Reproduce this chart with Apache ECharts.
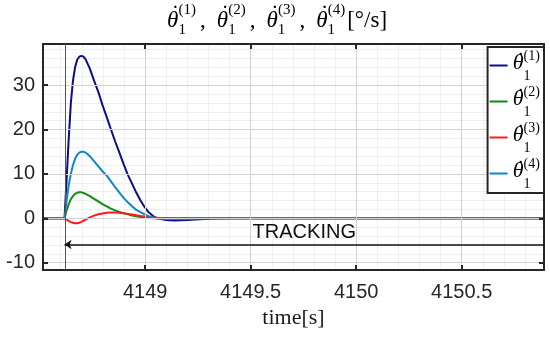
<!DOCTYPE html>
<html><head><meta charset="utf-8">
<script src="https://cdn.jsdelivr.net/npm/echarts@6/dist/echarts.min.js"></script>
<style>html,body{margin:0;padding:0;background:#fff}#c{width:550px;height:337px}</style>
</head><body><div id="c"></div>
<script>
// ---- data ----
const time = [4148.5, 4148.618, 4148.628, 4148.638, 4148.648, 4148.658, 4148.668, 4148.678, 4148.688, 4148.698, 4148.708, 4148.718,
  4148.738, 4148.758, 4148.778, 4148.798, 4148.818, 4148.838, 4148.858, 4148.878, 4148.898, 4148.918, 4148.938, 4148.958, 4148.978, 4148.998,
  4149.018, 4149.038, 4149.058, 4149.098, 4149.138, 4149.198, 4149.258, 4149.338, 4149.418, 4150.9];
const theta1 = [0, 0, 9, 18, 26, 31, 34, 35.7, 36.4, 36.6, 36.4, 35.8,
  33.7, 31, 28.5, 25.5, 22.8, 20, 17.3, 14.8, 12.2, 9.8, 7.8, 5.8, 4.0, 2.5, 1.3, 0.5, 0,
  -0.4, -0.5, -0.4, -0.2, -0.05, 0, 0];
const theta2 = [0, 0, 1.8, 3.2, 4.3, 5.0, 5.5, 5.75, 5.85, 5.85, 5.7, 5.5,
  5.0, 4.4, 3.8, 3.2, 2.7, 2.2, 1.8, 1.45, 1.15, 0.9, 0.65, 0.45, 0.3, 0.15, 0.05, 0, 0,
  0, 0, 0, 0, 0, 0, 0];
const theta3 = [0, 0, -0.3, -0.6, -0.85, -1.0, -1.1, -1.1, -1.0, -0.8, -0.55, -0.3,
  0.2, 0.6, 0.9, 1.1, 1.25, 1.3, 1.3, 1.25, 1.15, 1.0, 0.85, 0.7, 0.55, 0.42, 0.3, 0.22, 0.15,
  0.05, 0, 0, 0, 0, 0, 0];
const theta4 = [0, 0, 4, 7.5, 10, 12, 13.4, 14.3, 14.8, 15.0, 15.0, 14.8,
  14, 12.9, 11.7, 10.6, 9.6, 8.3, 7, 5.8, 4.6, 3.6, 2.7, 1.9, 1.4, 0.9, 0.45, 0.15, -0.05,
  -0.15, -0.15, -0.1, -0.05, 0, 0, 0];
const seriesIds = ['1', '2', '3', '4'];
const seriesColors = ['#0d0d8a', '#138a13', '#ff1a1a', '#0e88c4'];
const xTickLabels = [4149, 4149.5, 4150, 4150.5];
const yTickLabels = [-10, 0, 10, 20, 30];
const X_MIN = 4148.516, X_MAX = 4150.89;
const Y_MIN = -11.64, Y_MAX = 39.26;
const TRACK_START = 4148.618;
const TRACK_LEVEL = -5.9;
const trackText = 'TRACKING';
const xName = 'time[s]';
const unitText = '[°/s]';

// ---- helpers ----
const AX = '#262626';
const SERIF = 'Liberation Serif';
const sym = n => `{dt|\u2009\u02D9}{th|θ}{sb|1}{sp|(${n})}`;
const symL = n => sym(n) + '{pad|\u200b}';
const titleText = seriesIds.map(sym).join('{cm|,}') + `{br|${unitText}}`;
const allData = [theta1, theta2, theta3, theta4];

const chart = echarts.init(document.getElementById('c'), null, {renderer: 'canvas'});

const mainX = (pos) => ({
  type: 'value', position: pos, min: X_MIN, max: X_MAX, splitNumber: 5, z: 3,
  axisLine: {show: true, onZero: false, lineStyle: {color: AX, width: 2}},
  axisTick: {show: true, inside: true, length: 5, lineStyle: {color: AX, width: 2}},
  splitLine: {show: pos === 'bottom', lineStyle: {color: '#d2d2d2', width: 1}},
  axisLabel: pos === 'bottom' ? {
    show: true, margin: 12, fontSize: 20, fontFamily: 'Liberation Sans', color: AX,
    showMinLabel: false, showMaxLabel: false,
    formatter: v => xTickLabels.some(t => Math.abs(t - v) < 1e-6) ? String(v) : ''
  } : {show: false}
});
const mainY = (pos) => ({
  type: 'value', position: pos, min: Y_MIN, max: Y_MAX, splitNumber: 5, z: 3,
  axisLine: {show: true, onZero: false, lineStyle: {color: AX, width: 2}},
  axisTick: {show: true, inside: true, length: 5, lineStyle: {color: AX, width: 2}},
  splitLine: {show: pos === 'left', lineStyle: {color: '#d2d2d2', width: 1}},
  axisLabel: pos === 'left' ? {
    show: true, margin: 8, fontSize: 20, fontFamily: 'Liberation Sans', color: AX,
    showMinLabel: false, showMaxLabel: false,
    formatter: v => yTickLabels.some(t => Math.abs(t - v) < 1e-6) ? String(v) : ''
  } : {show: false}
});

const base = {fontFamily: SERIF, fontWeight: 'normal', color: '#000'};
const option = {
  animation: false,
  backgroundColor: '#fff',
  title: {
    text: titleText, left: 167, top: 3, padding: 0,
    textStyle: {
      fontWeight: 'normal',
      rich: {
        dt: Object.assign({}, base, {fontSize: 23, lineHeight: 27, verticalAlign: 'top', width: 0.1}),
        th: Object.assign({}, base, {fontStyle: 'italic', fontSize: 23, lineHeight: 35, verticalAlign: 'middle'}),
        sb: Object.assign({}, base, {fontSize: 15, lineHeight: 14, verticalAlign: 'bottom', width: 0.1}),
        sp: Object.assign({}, base, {fontSize: 15, lineHeight: 19, verticalAlign: 'top'}),
        cm: Object.assign({}, base, {fontSize: 23, lineHeight: 35, verticalAlign: 'middle', padding: [0, 11, 0, 4]}),
        br: Object.assign({}, base, {fontSize: 23, lineHeight: 35, verticalAlign: 'middle', padding: [0, 0, 0, 2]})
      }
    }
  },
  grid: {left: 43, right: 6, top: 44, bottom: 67, containLabel: false},
  legend: {
    orient: 'vertical', right: 6, top: 47, itemGap: 2, itemWidth: 18, itemHeight: 2, icon: 'rect',
    padding: [2, 4, 2, 2], borderColor: AX, borderWidth: 2, backgroundColor: '#fff',
    data: seriesIds.map(n => 'th' + n),
    formatter: name => symL(name.slice(2)),
    textStyle: {
      fontWeight: 'normal',
      rich: {
        dt: Object.assign({}, base, {fontSize: 22, height: 21, verticalAlign: 'top', width: 0.1}),
        th: Object.assign({}, base, {fontStyle: 'italic', fontSize: 22, height: 25, verticalAlign: 'top'}),
        sb: Object.assign({}, base, {fontSize: 14, height: 9, verticalAlign: 'bottom', width: 0.1}),
        sp: Object.assign({}, base, {fontSize: 14, height: 11, verticalAlign: 'top'}),
        pad: Object.assign({}, base, {fontSize: 10, lineHeight: 30, verticalAlign: 'middle', width: 0.1})
      }
    }
  },
  xAxis: [
    {type: 'value', min: X_MIN, max: X_MAX, splitNumber: 24, z: 0, position: 'bottom',
     axisLine: {show: false}, axisTick: {show: false}, axisLabel: {show: false},
     splitLine: {show: true, lineStyle: {color: '#efefef', width: 1}}},
    Object.assign(mainX('bottom'), {name: xName, nameLocation: 'middle', nameGap: 37,
      nameTextStyle: {fontFamily: SERIF, fontSize: 22, color: '#1a1a1a'}}),
    mainX('top')
  ],
  yAxis: [
    {type: 'value', min: Y_MIN, max: Y_MAX, splitNumber: 25, z: 0, position: 'left',
     axisLine: {show: false}, axisTick: {show: false}, axisLabel: {show: false},
     splitLine: {show: true, lineStyle: {color: '#efefef', width: 1}}},
    mainY('left'),
    mainY('right')
  ],
  series: seriesIds.map((n, i) => {
    const s = {
      name: 'th' + n, type: 'line', xAxisIndex: 1, yAxisIndex: 1,
      data: time.map((t, k) => [t, allData[i][k]]),
      showSymbol: false, symbol: 'none', smooth: false,
      lineStyle: {color: seriesColors[i], width: 2}, itemStyle: {color: seriesColors[i]},
      z: 2
    };
    if (i === 0) {
      s.markLine = {
        silent: true, symbol: ['none', 'none'], animation: false,
        label: {show: false},
        lineStyle: {color: '#555', width: 1, type: 'solid'},
        data: [{xAxis: TRACK_START}]
      };
    }
    if (i === 1) {
      s.markLine = {
        silent: true, symbol: ['arrow', 'none'], symbolSize: 7, animation: false,
        lineStyle: {color: '#111', width: 1.5, type: 'solid'},
        itemStyle: {color: '#111'},
        label: {show: true, position: 'middle', formatter: trackText, fontSize: 20,
                fontFamily: 'Liberation Sans', color: '#111', distance: 2},
        data: [[{coord: [TRACK_START, TRACK_LEVEL]}, {coord: [X_MAX, TRACK_LEVEL]}]]
      };
    }
    return s;
  })
};
chart.setOption(option);
</script></body></html>
